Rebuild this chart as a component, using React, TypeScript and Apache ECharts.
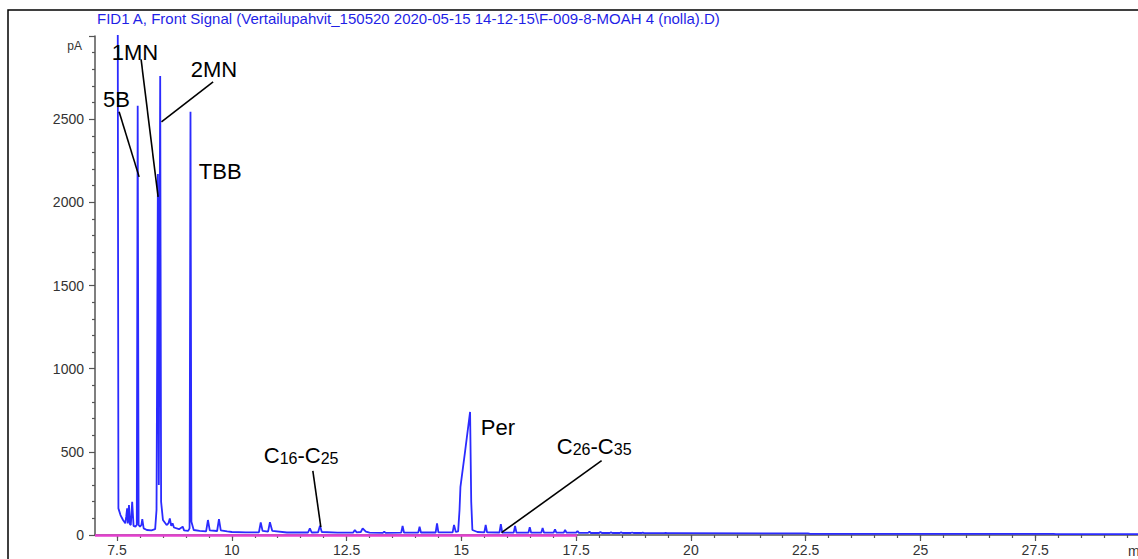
import React, { useEffect, useRef } from "react";
import * as echarts from "echarts";

const TITLE =
  "FID1 A, Front Signal (Vertailupahvit_150520 2020-05-15 14-12-15\\F-009-8-MOAH 4 (nolla).D)";

// retention time (min)
const times = [
  7.49, 7.515, 7.53, 7.575, 7.63, 7.68, 7.7, 7.72, 7.735, 7.76, 7.78, 7.8, 7.83, 7.86, 7.9, 7.93,
  7.95, 7.97, 8.0, 8.03, 8.05, 8.08, 8.15, 8.25, 8.33, 8.36, 8.39, 8.41, 8.44, 8.46, 8.5, 8.58,
  8.62, 8.65, 8.68, 8.71, 8.74, 8.85, 8.93, 8.96, 9.05, 9.08, 9.1, 9.12, 9.17, 9.3, 9.44, 9.48,
  9.52, 9.68, 9.72, 9.76, 9.9, 10.0, 10.3, 10.59, 10.63, 10.67, 10.79, 10.83, 10.88, 11.2, 11.66,
  11.7, 11.74, 11.88, 11.92, 11.96, 12.3, 12.64, 12.68, 12.72, 12.81, 12.85, 12.92, 13.0, 13.29,
  13.32, 13.35, 13.69, 13.72, 13.75, 14.06, 14.09, 14.12, 14.44, 14.47, 14.5, 14.81, 14.84, 14.88,
  14.93, 14.96, 14.98, 15.08, 15.19, 15.215, 15.24, 15.35, 15.5, 15.53, 15.56, 15.83, 15.86, 15.89,
  16.14, 16.17, 16.2, 16.46, 16.49, 16.52, 16.74, 16.77, 16.8, 17.01, 17.04, 17.07, 17.23, 17.26,
  17.29, 17.5, 17.53, 17.56, 17.76, 17.79, 17.82, 18.0, 18.03, 18.06, 18.23, 18.26, 18.29, 18.45,
  18.48, 18.51, 18.69, 18.72, 18.75, 18.92, 18.95, 18.98, 19.42, 19.45, 19.48, 19.6, 22.55, 22.6,
  27.9, 27.95, 29.9,
];
// FID signal (pA)
const signal = [
  3200, 3200, 160, 120, 90, 70, 110, 160, 70, 180, 65, 60, 200, 55, 50, 60,
  2580, 60, 50, 60, 95, 40, 30, 28, 35, 150, 2170, 300, 2760, 200, 90, 60,
  70, 100, 55, 70, 45, 35, 50, 28, 25, 40, 2545, 80, 30, 25, 22, 90,
  28, 24, 95, 28, 22, 18, 16, 16, 75, 25, 20, 77, 25, 15, 15,
  40, 15, 16, 55, 18, 14, 14, 30, 16, 18, 40, 20, 14, 13,
  20, 13, 14, 54, 15, 14, 50, 15, 15, 70, 16, 16, 60, 18,
  22, 150, 290, 500, 740, 200, 30, 18, 16, 60, 16, 15, 66, 15,
  14, 54, 14, 14, 46, 14, 14, 42, 14, 14, 34, 14, 14, 30,
  14, 14, 24, 13, 13, 20, 12, 12, 18, 12, 12, 16, 12, 12,
  16, 12, 12, 15, 12, 12, 14, 11, 11, 13, 11, 11, 10, 7,
  7, 5, 5,
];

// baseline (pink) segment
const baselineTimes = [7.02, 17.52];
const baselineValues = [0, 0];

const xMajorTicks = [7.5, 10, 12.5, 15, 17.5, 20, 22.5, 25, 27.5, 30];
const xMinorTicks = [
  7.5, 8, 8.5, 9, 9.5, 10, 10.5, 11, 11.5, 12, 12.5, 13, 13.5, 14, 14.5, 15, 15.5, 16, 16.5, 17,
  17.5, 18, 18.5, 19, 19.5, 20, 20.5, 21, 21.5, 22, 22.5, 23, 23.5, 24, 24.5, 25, 25.5, 26, 26.5,
  27, 27.5, 28, 28.5, 29, 29.5,
];

// annotations (data coordinates)
const labelTexts = ["5B", "1MN", "2MN", "TBB", "Per"];
const labelAnchors = [
  [7.192, 2620],
  [7.386, 2903],
  [9.107, 2797],
  [9.281, 2188],
  [15.425, 649],
];
const subLabels = [
  ["C", "16", "-C", "25"],
  ["C", "26", "-C", "35"],
];
const subLabelAnchors = [
  [10.697, 481],
  [17.08, 541],
];
const leaderFrom = [
  [7.545, 2544],
  [8.024, 2859],
  [9.593, 2724],
  [11.765, 385],
  [18.055, 447],
];
const leaderTo = [
  [7.981, 2153],
  [8.394, 2033],
  [8.468, 2484],
  [11.939, 48],
  [15.876, 14],
];

const FONT = "Arial, 'Liberation Sans', sans-serif";

export default function App() {
  const ref = useRef<HTMLDivElement>(null);
  useEffect(() => {
    if (!ref.current) return;
    const chart = echarts.init(ref.current, undefined, { renderer: "svg" });
    const xMin = 7.02;
    const xMax = 30;
    chart.setOption({
      animation: false,
      backgroundColor: "#ffffff",
      grid: { left: 95, top: 36, bottom: 24, width: 1055, containLabel: false },
      xAxis: [
        {
          type: "value",
          min: xMin,
          max: xMax,
          axisLine: { show: true, onZero: false, lineStyle: { color: "#555", width: 1.5 } },
          axisTick: { show: true, customValues: xMajorTicks, length: 6, lineStyle: { color: "#555", width: 1.2 } },
          axisLabel: {
            customValues: xMajorTicks,
            formatter: (v: number) => (v === 30 ? "" : String(v)),
            color: "#333",
            fontSize: 14,
            fontFamily: FONT,
            margin: 8,
          },
          splitLine: { show: false },
        },
        {
          type: "value",
          min: xMin,
          max: xMax,
          position: "bottom",
          axisLine: { show: false },
          axisTick: { show: true, customValues: xMinorTicks, length: 3, lineStyle: { color: "#555", width: 1.2 } },
          axisLabel: { show: false, customValues: xMinorTicks },
          splitLine: { show: false },
        },
      ],
      yAxis: {
        type: "value",
        min: 0,
        max: 3000,
        interval: 500,
        axisLine: { show: true, lineStyle: { color: "#555", width: 1.5 } },
        axisTick: { show: true, length: 6, lineStyle: { color: "#555", width: 1.2 } },
        minorTick: { show: true, splitNumber: 5, length: 3, lineStyle: { color: "#555", width: 1.2 } },
        axisLabel: {
          formatter: (v: number) => (v === 3000 ? "" : String(v)),
          color: "#333",
          fontSize: 14,
          fontFamily: FONT,
          margin: 11,
        },
        splitLine: { show: false },
      },
      series: [
        {
          type: "line",
          xAxisIndex: 0,
          data: times.map((t, i) => [t, signal[i]]),
          showSymbol: false,
          symbol: "none",
          lineStyle: { color: "#2b2bff", width: 1.8 },
          z: 3,
          markLine: {
            silent: true,
            symbol: ["none", "none"],
            label: { show: false },
            lineStyle: { color: "#e53fcf", width: 2.5, type: "solid" },
            data: [
              [
                { coord: [baselineTimes[0], baselineValues[0]] },
                { coord: [baselineTimes[1], baselineValues[1]] },
              ],
            ],
          },
        },
      ],
    });

    const px = (p: number[]) => chart.convertToPixel({ xAxisIndex: 0, yAxisIndex: 0 }, p) as number[];
    const graphics: any[] = [];
    graphics.push({
      type: "rect",
      silent: true,
      z: 100,
      shape: { x: 8, y: 10, width: 1400, height: 800 },
      style: { fill: "none", stroke: "#000", lineWidth: 1.5 },
    });
    graphics.push({
      type: "text",
      x: 97,
      y: 18,
      z: 100,
      style: { text: TITLE, fill: "#1f1fe6", fontSize: 15, fontFamily: FONT, verticalAlign: "middle" },
    });
    graphics.push({
      type: "text",
      x: 82,
      y: 46,
      z: 100,
      style: { text: "pA", fill: "#333", fontSize: 12, fontFamily: FONT, align: "right", verticalAlign: "middle" },
    });
    const p30 = px([30, 0]);
    graphics.push({
      type: "text",
      x: p30[0] - 22,
      y: p30[1] + 16,
      z: 100,
      style: { text: "min", fill: "#333", fontSize: 14, fontFamily: FONT, verticalAlign: "middle" },
    });
    labelTexts.forEach((t, i) => {
      const p = px(labelAnchors[i]);
      graphics.push({
        type: "text",
        x: p[0],
        y: p[1],
        z: 100,
        style: { text: t, fill: "#000", fontSize: 22, fontFamily: FONT, verticalAlign: "middle" },
      });
    });
    subLabels.forEach((parts, i) => {
      const p = px(subLabelAnchors[i]);
      graphics.push({
        type: "text",
        x: p[0],
        y: p[1],
        z: 100,
        style: {
          text: `{a|${parts[0]}}{s|${parts[1]}}{a|${parts[2]}}{s|${parts[3]}}`,
          verticalAlign: "middle",
          rich: {
            a: { fontSize: 22, fontFamily: FONT, fill: "#000", lineHeight: 24, verticalAlign: "bottom" },
            s: { fontSize: 16, fontFamily: FONT, fill: "#000", lineHeight: 24, verticalAlign: "bottom" },
          },
        },
      });
    });
    leaderFrom.forEach((f, i) => {
      const a = px(f);
      const b = px(leaderTo[i]);
      graphics.push({
        type: "line",
        z: 100,
        shape: { x1: a[0], y1: a[1], x2: b[0], y2: b[1] },
        style: { stroke: "#000", lineWidth: 1.6 },
      });
    });
    chart.setOption({ graphic: graphics });
    return () => chart.dispose();
  }, []);

  return (
    <div
      style={{
        position: "absolute",
        left: 0,
        top: 0,
        width: 1138,
        height: 559,
        overflow: "hidden",
        background: "#fff",
      }}
    >
      <div ref={ref} style={{ width: 1200, height: 559 }} />
    </div>
  );
}
